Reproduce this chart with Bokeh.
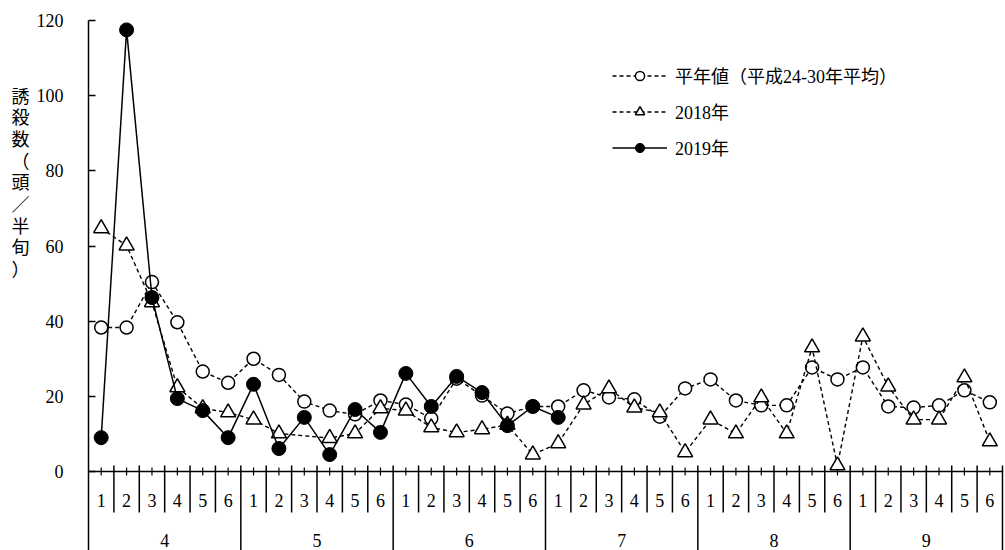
from bokeh.plotting import figure
from bokeh.layouts import row
from bokeh.models import Range1d, FixedTicker, Legend, LegendItem
from bokeh.core.properties import value
from bokeh.embed import file_html
from bokeh.resources import INLINE

# ---- data: half-month (半旬) trap counts, April–September ----
months = ["4", "5", "6", "7", "8", "9"]
periods = ["1", "2", "3", "4", "5", "6"]

normal = [38.3, 38.3, 50.4, 39.7, 26.6, 23.6,
          30.0, 25.7, 18.6, 16.2, 15.2, 18.9,
          17.8, 14.1, 24.7, 20.2, 15.4, 17.3,
          17.3, 21.6, 19.7, 19.2, 14.6, 22.1,
          24.5, 18.9, 17.6, 17.6, 27.7, 24.5,
          27.7, 17.3, 17.0, 17.6, 21.6, 18.4]
y2018 = [64.7, 60.1, 45.0, 22.4, 16.8, 15.7,
         13.8, 10.1, None, 8.9, 10.1, 16.8,
         16.2, 11.7, 10.4, 11.2, 12.4, 4.5,
         7.5, 17.8, 22.1, 17.0, 15.7, 5.1,
         13.8, 10.1, 19.7, 10.1, 33.0, 1.6,
         35.9, 22.6, 13.8, 13.8, 25.0, 8.0]
y2019 = [9.0, 117.5, 46.3, 19.4, 16.2, 9.0,
         23.2, 6.1, 14.4, 4.5, 16.5, 10.4,
         26.1, 17.3, 25.3, 21.0, 12.2, 17.3,
         14.4]

y_ticks = [0, 20, 40, 60, 80, 100, 120]
y_title = "誘殺数（頭／半旬）"
legend_labels = ["平年値（平成24-30年平均）", "2018年", "2019年"]

# ---- geometry ----
W, H = 1005, 550
TITLE_W = 30                      # strip holding the vertical axis title
LEFT, RIGHT, TOP = 88, 1, 20      # plot frame edges on the page
Y_MAX = 120
PX_Y = (471 - TOP) / Y_MAX        # pixels per count
Y_MIN = -(H - 471) / PX_Y         # room below zero for the category axis
N = len(months) * len(periods)
PX_X = (1002 - LEFT) / N          # pixels per half-month
X_MAX = 0.5 + (W - LEFT - RIGHT) / PX_X

def dy(px):
    return px / PX_Y

SERIF = "Liberation Serif"
MIXED = "Liberation Serif, Noto Sans CJK JP"

# ---- vertical y-axis title (one character per line) ----
t = figure(title=None, width=TITLE_W, height=H,
           x_range=Range1d(0, TITLE_W), y_range=Range1d(H, 0),
           min_border=0, x_axis_location=None, y_axis_location=None,
           output_backend="svg", toolbar_location=None)
t.xgrid.visible = False
t.ygrid.visible = False
t.outline_line_color = None
chars = list(y_title)
t.text(x=[20] * len(chars), y=[77 + i * 22.5 for i in range(len(chars))], text=chars,
       text_align="center", text_baseline="middle",
       text_font=value("Noto Sans CJK JP"), text_font_size="18px", text_color="black")

# ---- main chart ----
p = figure(title=None, width=W - TITLE_W, height=H,
           x_range=Range1d(0.5, X_MAX), y_range=Range1d(Y_MIN, Y_MAX),
           min_border_left=LEFT - TITLE_W, min_border_right=RIGHT,
           min_border_top=TOP, min_border_bottom=0,
           x_axis_location=None, output_backend="svg", toolbar_location=None)
p.xgrid.visible = False
p.ygrid.visible = False
p.outline_line_color = None

ya = p.yaxis[0]
ya.ticker = FixedTicker(ticks=y_ticks)
ya.major_tick_in = 7
ya.major_tick_out = 0
ya.minor_tick_line_color = None
ya.axis_line_width = 1.5
ya.axis_line_color = "black"
ya.major_tick_line_width = 1.5
ya.major_tick_line_color = "black"
ya.major_label_text_font = SERIF
ya.major_label_text_font_size = "18px"
ya.major_label_text_color = "black"
ya.major_label_standoff = 25

# ---- category axis: half-month ticks, separators and labels ----
xs = list(range(1, N + 1))
p.segment(x0=[0.5], y0=[0], x1=[N + 0.5], y1=[0], line_color="black", line_width=1.5)
p.segment(x0=xs, y0=[dy(4)] * N, x1=xs, y1=[dy(-4)] * N, line_color="black", line_width=1.2)

inner = [k + 0.5 for k in range(1, N) if k % len(periods) != 0]
p.segment(x0=inner, y0=[dy(6)] * len(inner), x1=inner, y1=[dy(-41)] * len(inner),
          line_color="black", line_width=1.5)
month_edges = [k + 0.5 for k in range(len(periods), N + 1, len(periods))]
p.segment(x0=month_edges, y0=[dy(6)] * len(month_edges), x1=month_edges,
          y1=[Y_MIN] * len(month_edges), line_color="black", line_width=1.5)

p.text(x=xs, y=[dy(-29)] * N, text=periods * len(months),
       text_align="center", text_baseline="middle",
       text_font=value(SERIF), text_font_size="18px", text_color="black")
month_x = [len(periods) * i + (len(periods) + 1) / 2 for i in range(len(months))]
p.text(x=month_x, y=[dy(-69)] * len(months), text=months,
       text_align="center", text_baseline="middle",
       text_font=value(SERIF), text_font_size="18px", text_color="black")

# ---- series ----
DASH = "4 3"

n_line = p.line(xs, normal, line_color="black", line_width=1.4, line_dash=DASH)
n_pts = p.scatter(xs, normal, marker="circle", size=13, fill_color="white",
                  line_color="black", line_width=1.5)

x18 = [x for x, v in zip(xs, y2018) if v is not None]
v18 = [v for v in y2018 if v is not None]
a_line = p.line(x18, v18, line_color="black", line_width=1.4, line_dash=DASH)
a_pts = p.scatter(x18, v18, marker="triangle", size=15, fill_color="white",
                  line_color="black", line_width=1.5)

x19 = xs[:len(y2019)]
b_line = p.line(x19, y2019, line_color="black", line_width=1.5)
b_pts = p.scatter(x19, y2019, marker="circle", size=14, fill_color="black",
                  line_color="black", line_width=1)

legend = Legend(items=[LegendItem(label=legend_labels[0], renderers=[n_line, n_pts]),
                       LegendItem(label=legend_labels[1], renderers=[a_line, a_pts]),
                       LegendItem(label=legend_labels[2], renderers=[b_line, b_pts])],
                location=(612 - LEFT, H - 160), orientation="vertical",
                glyph_width=55, glyph_height=23, label_height=23,
                label_standoff=8, spacing=10, padding=0, margin=0,
                border_line_color=None, background_fill_alpha=0,
                label_text_font=MIXED, label_text_font_size="18px",
                label_text_color="black")
p.add_layout(legend)

layout = row(t, p, spacing=0)
open("out.html", "w").write(file_html(layout, INLINE))
